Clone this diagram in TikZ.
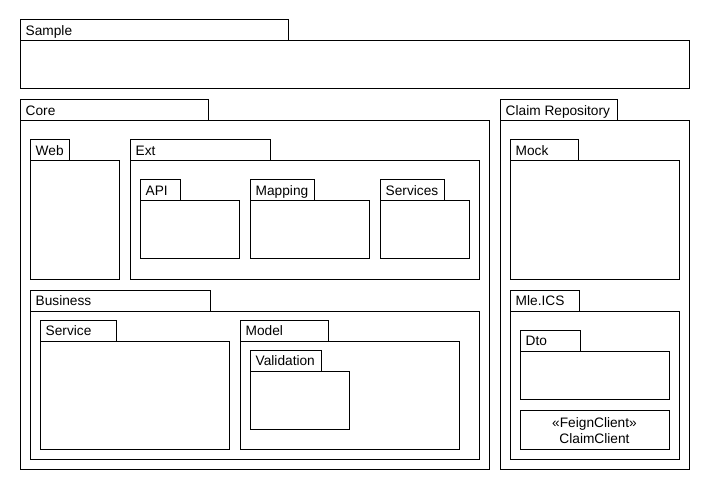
\documentclass[tikz,border=0pt]{standalone}
\usepackage{fontspec}
\setmainfont{Liberation Sans}
\usetikzlibrary{fit}
\tikzset{
  box/.style={draw=black, line width=1bp, inner sep=0pt, fill=white},
  pkglabel/.style={anchor=base west, inner sep=0pt, font=\fontsize{13.7bp}{16bp}\selectfont},
}
% name, label, x1, ytop, tab right, x2, y2
\newcommand\umlpkg[7]{%
  \node[box, fit={(#3,#4)(#5,#4+21)}] (#1tab) {};
  \node[box, fit={(#3,#4+21)(#6,#7)}] (#1) {};
  \node[pkglabel] (#1lbl) at ([xshift=6bp,yshift=-16bp]#1tab.north west) {#2};
}
\begin{document}
\begin{tikzpicture}[x=1bp,y=-1bp]
\useasboundingbox (0,0) rectangle (710,490);
\umlpkg{sample}{Sample}{20}{20}{288}{689}{89}
\umlpkg{core}{Core}{20}{100}{208}{489}{469}
\umlpkg{web}{Web}{30}{140}{69}{119}{279}
\umlpkg{ext}{Ext}{130}{140}{270}{479}{279}
\umlpkg{api}{API}{140}{180}{180}{239}{259}
\umlpkg{mapping}{Mapping}{250}{180}{314}{369}{259}
\umlpkg{services}{Services}{380}{180}{444}{469}{259}
\umlpkg{business}{Business}{30}{290}{210}{479}{459}
\umlpkg{service}{Service}{40}{320}{116}{229}{449}
\umlpkg{model}{Model}{240}{320}{328}{459}{449}
\umlpkg{validation}{Validation}{250}{350}{321}{349}{429}
\umlpkg{claimrepo}{Claim Repository}{500}{100}{617}{689}{469}
\umlpkg{mock}{Mock}{510}{140}{578}{679}{279}
\umlpkg{mle}{Mle.ICS}{510}{290}{579}{679}{459}
\umlpkg{dto}{Dto}{520}{330}{580}{669}{399}
\node[box, fit={(520,410)(669,449)}] (feign) {};
\node[align=center, inner sep=0pt, font=\fontsize{13.7bp}{16bp}\selectfont] (feignlbl) at ([yshift=-1.5bp]feign.center) {«FeignClient»\\ClaimClient};
\end{tikzpicture}
\end{document}
